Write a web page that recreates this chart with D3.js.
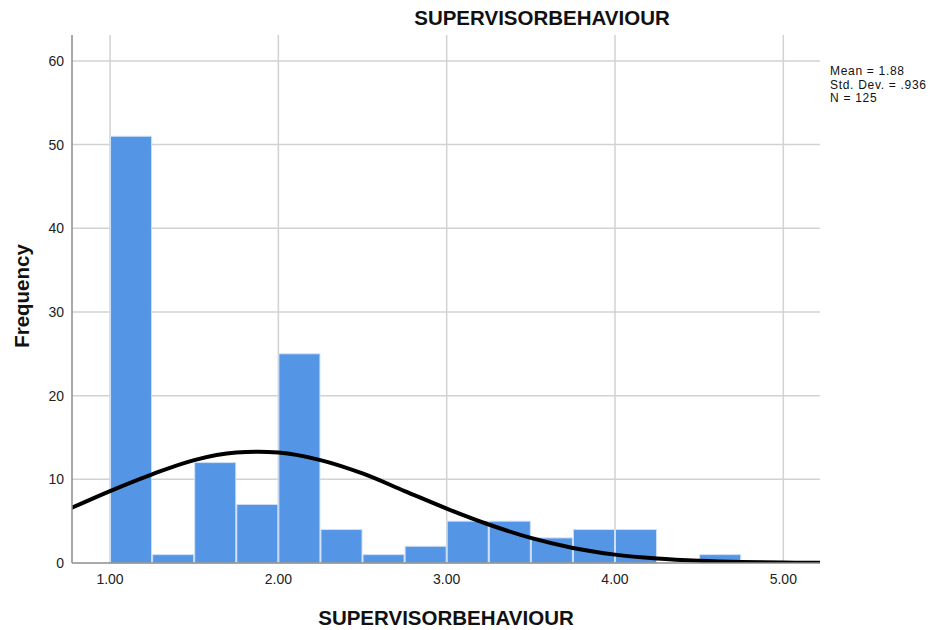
<!DOCTYPE html>
<html>
<head>
<meta charset="utf-8">
<script src="https://cdn.jsdelivr.net/npm/d3@7"></script>
<style>
  body { margin: 0; background: #fff; }
  text { font-family: 'Liberation Sans', Arial, sans-serif; }
</style>
</head>
<body>
<div id="chart"></div>
<script>
// Histogram bins (lower edge) and counts
const binStarts = [1.0, 1.25, 1.5, 1.75, 2.0, 2.25, 2.5, 2.75, 3.0, 3.25, 3.5, 3.75, 4.0, 4.25, 4.5, 4.75];
const counts = [51, 1, 12, 7, 25, 4, 1, 2, 5, 5, 3, 4, 4, 0, 1, 0];
const binWidth = 0.25;

// Normal curve points
const curveX = [0.75, 1.0, 1.25, 1.5, 1.75, 1.88, 2.0, 2.25, 2.5, 2.75, 3.0, 3.25, 3.5, 3.75, 4.0, 4.25, 4.5, 4.75, 5.0, 5.25];
const curveY = [6.4, 8.6, 10.6, 12.3, 13.2, 13.3, 13.2, 12.3, 10.7, 8.6, 6.5, 4.6, 3.0, 1.8, 1.0, 0.54, 0.27, 0.12, 0.05, 0.02];

const xTicks = [1, 2, 3, 4, 5];
const yTicks = [0, 10, 20, 30, 40, 50, 60];
const statsLines = ['Mean = 1.88', 'Std. Dev. = .936', 'N = 125'];

const W = 934, H = 630;
const margin = { top: 35, right: 114, bottom: 67, left: 72 };
const width = W - margin.left - margin.right;
const height = H - margin.top - margin.bottom;

const svg = d3.select('#chart')
  .append('svg')
  .attr('width', W)
  .attr('height', H);

const g = svg.append('g')
  .attr('transform', `translate(${margin.left},${margin.top})`);

const x = d3.scaleLinear().domain([0.774, 5.218]).range([0, width]);
const y = d3.scaleLinear().domain([0, 63.1]).range([height, 0]);

// Gridlines
g.append('g')
  .selectAll('line')
  .data(yTicks.filter((d) => d > 0))
  .join('line')
  .attr('x1', 0)
  .attr('x2', width)
  .attr('y1', (d) => y(d))
  .attr('y2', (d) => y(d))
  .attr('stroke', '#d2d2d2')
  .attr('stroke-width', 1.5);

g.append('g')
  .selectAll('line')
  .data(xTicks)
  .join('line')
  .attr('x1', (d) => x(d))
  .attr('x2', (d) => x(d))
  .attr('y1', 0)
  .attr('y2', height)
  .attr('stroke', '#d2d2d2')
  .attr('stroke-width', 1.5);

// Bars
const bins = binStarts.map((s, i) => ({ x0: s, x1: s + binWidth, n: counts[i] }));
g.append('g')
  .selectAll('rect')
  .data(bins.filter((d) => d.n > 0))
  .join('rect')
  .attr('x', (d) => x(d.x0) + 0.5)
  .attr('y', (d) => y(d.n))
  .attr('width', (d) => x(d.x1) - x(d.x0) - 1)
  .attr('height', (d) => y(0) - y(d.n))
  .attr('fill', '#5595e5')
  .attr('stroke', '#cfe0f7')
  .attr('stroke-width', 1);

// Normal curve
svg.append('defs')
  .append('clipPath')
  .attr('id', 'plotClip')
  .append('rect')
  .attr('width', width)
  .attr('height', height);

const line = d3.line()
  .x((d) => x(d[0]))
  .y((d) => y(d[1]))
  .curve(d3.curveMonotoneX);

g.append('path')
  .datum(curveX.map((v, i) => [v, curveY[i]]))
  .attr('clip-path', 'url(#plotClip)')
  .attr('fill', 'none')
  .attr('stroke', '#000')
  .attr('stroke-width', 4)
  .attr('d', line);

// Axes lines
g.append('line')
  .attr('x1', 0).attr('x2', 0)
  .attr('y1', 0).attr('y2', height)
  .attr('stroke', '#8c8c8c')
  .attr('stroke-width', 1.5);
g.append('line')
  .attr('x1', 0).attr('x2', width)
  .attr('y1', height).attr('y2', height)
  .attr('stroke', '#8c8c8c')
  .attr('stroke-width', 1.5);

// Tick labels
g.append('g')
  .selectAll('text')
  .data(yTicks)
  .join('text')
  .attr('x', -8)
  .attr('y', (d) => y(d))
  .attr('dy', '0.35em')
  .attr('text-anchor', 'end')
  .style('font-size', '14px')
  .style('fill', '#222')
  .text((d) => d);

g.append('g')
  .selectAll('text')
  .data(xTicks)
  .join('text')
  .attr('x', (d) => x(d))
  .attr('y', height + 16)
  .attr('dy', '0.35em')
  .attr('text-anchor', 'middle')
  .style('font-size', '14px')
  .style('fill', '#222')
  .text((d) => d3.format('.2f')(d));

// Titles
svg.append('text')
  .attr('x', 542)
  .attr('y', 18)
  .attr('dy', '0.35em')
  .attr('text-anchor', 'middle')
  .style('font-size', '20.5px')
  .style('font-weight', 'bold')
  .style('fill', '#111')
  .text('SUPERVISORBEHAVIOUR');

svg.append('text')
  .attr('x', 446)
  .attr('y', 618)
  .attr('dy', '0.35em')
  .attr('text-anchor', 'middle')
  .style('font-size', '20.5px')
  .style('font-weight', 'bold')
  .style('fill', '#111')
  .text('SUPERVISORBEHAVIOUR');

svg.append('text')
  .attr('transform', 'translate(22,296) rotate(-90)')
  .attr('dy', '0.35em')
  .attr('text-anchor', 'middle')
  .style('font-size', '20.5px')
  .style('font-weight', 'bold')
  .style('fill', '#111')
  .text('Frequency');

// Stats box
svg.append('g')
  .selectAll('text')
  .data(statsLines)
  .join('text')
  .attr('x', 830)
  .attr('y', (d, i) => 71 + i * 13.5)
  .attr('dy', '0.35em')
  .style('font-size', '12px')
  .style('letter-spacing', '0.7px')
  .style('fill', '#111')
  .text((d) => d);
</script>
</body>
</html>
